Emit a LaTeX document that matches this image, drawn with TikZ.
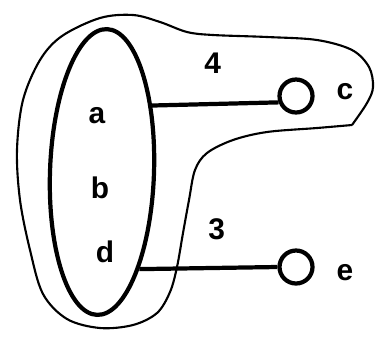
\documentclass[tikz,border=0pt]{standalone}
\usepackage{fontspec}
\setmainfont{Liberation Sans}
\usetikzlibrary{shapes.geometric}

\begin{document}
\begin{tikzpicture}[x=0.02cm, y=-0.02cm,
    heavy/.style={line width=2.4pt},
    outline/.style={line width=1.2pt, line join=round},
    vertex/.style={circle, draw, heavy, inner sep=0pt, minimum size=0.66cm},
    lab/.style={font=\fontsize{17}{17}\selectfont\bfseries, inner sep=0pt}]
    \useasboundingbox (0,0) rectangle (384,339);

    % 外边界
    \draw[outline] plot[smooth, tension=0.55] coordinates {
        (352,125) (317,128) (267,132) (233,140) (207,153) (195,170)
        (189,200) (183,233) (177,267) (170,292) (157,313) (133,325)
        (100,328) (67,319) (43,294) (30,250) (20,200) (17,150)
        (23,100) (40,60) (62,36) (100,18) (133,15) (160,22)
        (187,32) (213,35) (267,37) (317,40) (352,50) (369,67)
        (373,87) (367,103) (352,125)};

    % 集合
    \node[ellipse, draw, heavy, rotate=-2, minimum width=2.08cm,
          minimum height=5.72cm, inner sep=0pt] (abd) at (102,172) {};
    \node[lab] (a) at (97,116) {a};
    \node[lab] (b) at (100,188) {b};
    \node[lab] (d) at (105,252) {d};

    % 顶点
    \node[vertex] (c) at (296,96) {};
    \node[vertex] (e) at (296,267) {};
    \node[lab] (cl) at (345,92) {c};
    \node[lab] (el) at (345,273) {e};

    % 边
    \draw[heavy] (abd.55) -- (c.200) node[lab, pos=0.48, above=16pt] (w4) {4};
    \draw[heavy] (abd.-67) -- (e.west) node[lab, pos=0.56, above=15pt] (w3) {3};
\end{tikzpicture}
\end{document}
